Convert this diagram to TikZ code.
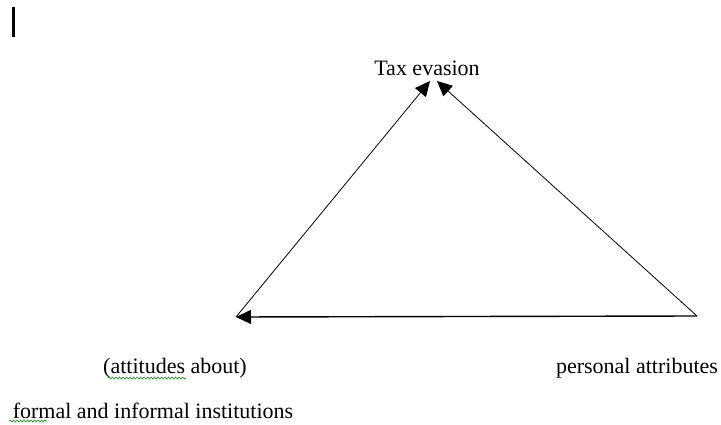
\documentclass[tikz,border=0pt]{standalone}
\usepackage{fontspec}
\setmainfont{Liberation Serif}
\usetikzlibrary{arrows.meta,decorations.pathmorphing}

\begin{document}
\begin{tikzpicture}[x=1pt,y=-1pt,
	lbl/.style={font=\fontsize{22}{24}\selectfont, inner sep=0pt},
	link/.style={line width=0.8pt, -{Triangle[length=15pt,width=14pt]}},
	squiggle/.style={green!60!black, line width=0.6pt, decorate,
		decoration={snake, amplitude=1pt, segment length=3.5pt}}]
	\useasboundingbox (0,0) rectangle (721,425);
	\draw[line width=3pt] (13,7) -- (13,37);
	\node[lbl] (tax) at (427,68) {Tax evasion};
	\coordinate (inst) at (236,317);
	\coordinate (pers) at (697,316);
	\coordinate (tipl) at (430,81);
	\coordinate (tipr) at (437,81);
	\draw[link] (inst) -- (tipl);
	\draw[link] (pers) -- (tipr);
	\draw[link, line width=1.4pt] (pers) -- (inst);
	\node[lbl] (att) at (175,368) {(attitudes about)};
	\node[lbl] (fi) at (153,411) {formal and informal institutions};
	\node[lbl] (pa) at (637,368) {personal attributes};
	\draw[squiggle] (108,378) -- (186,378);
	\draw[squiggle] (9,421) -- (47,421);
\end{tikzpicture}
\end{document}
